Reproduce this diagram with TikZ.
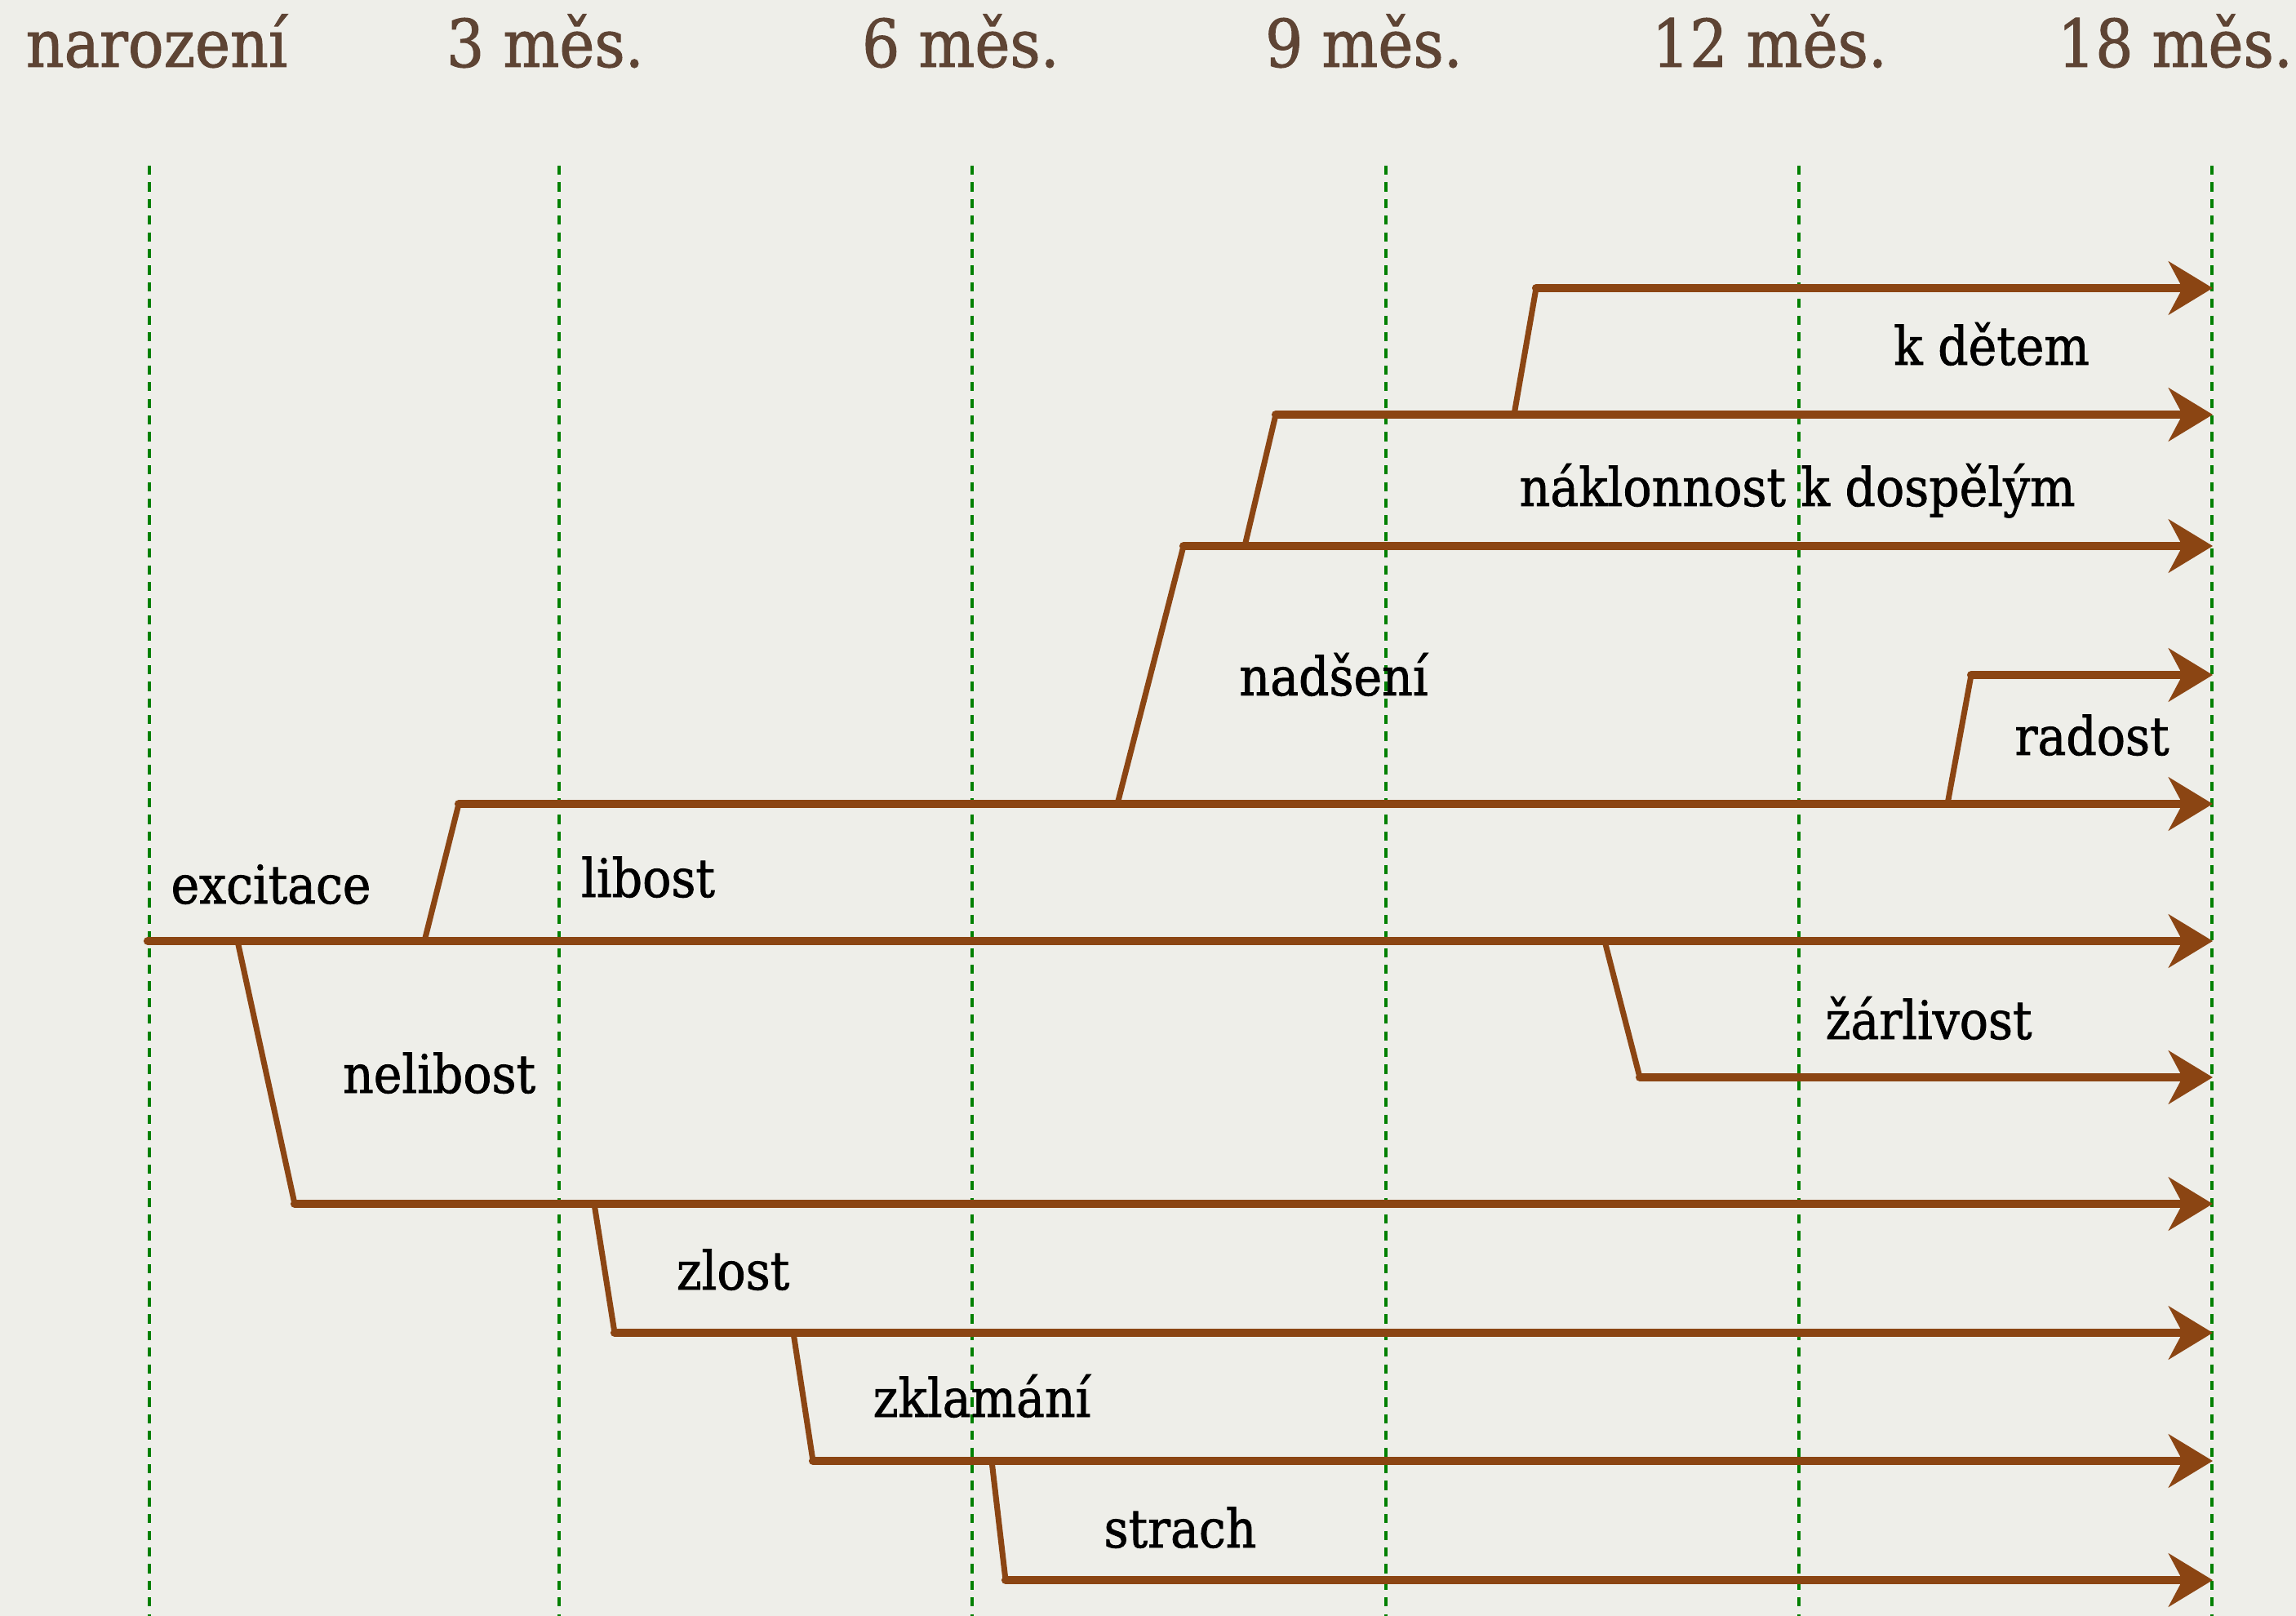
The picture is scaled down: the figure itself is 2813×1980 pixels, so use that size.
\documentclass[tikz,border=0pt]{standalone}
\usepackage{fontspec}
\setmainfont{DejaVu Serif Condensed}
\usetikzlibrary{arrows.meta}
\definecolor{paper}{RGB}{238,238,233}
\definecolor{chalk}{RGB}{139,69,19}
\definecolor{gridgreen}{RGB}{0,128,0}
\definecolor{headbrown}{RGB}{94,68,52}

\begin{document}
\begin{tikzpicture}[x=0.01cm,y=-0.01cm]
	\fill[paper] (0,0) rectangle (2813,1980);
	\useasboundingbox (0,0) rectangle (2813,1980);

	\foreach \x in {183,685,1191,1698,2204,2710}
		\draw[gridgreen,line width=0.9pt,dash pattern=on 3.2pt off 2.6pt] (\x,203) -- (\x,1980);

	\begin{scope}[every node/.style={anchor=base,text=headbrown,font=\fontsize{23}{26}\selectfont\addfontfeatures{FakeBold=1.2}}]
		\node (m0) at (192,82) {narození};
		\node (m3) at (668,82) {3 měs.};
		\node (m6) at (1177,82) {6 měs.};
		\node (m9) at (1671,82) {9 měs.};
		\node (m12) at (2168,82) {12 měs.};
		\node (m18) at (2665,82) {18 měs.};
	\end{scope}

	\begin{scope}[every node/.style={anchor=base,text=black,font=\fontsize{18.5}{22}\selectfont\addfontfeatures{FakeBold=1.2}}]
		\node (excL) at (332,1107) {excitace};
		\node (libL) at (794,1099) {libost};
		\node (nadL) at (1634,852) {nadšení};
		\node (nakL) at (2202,620) {náklonnost k dospělým};
		\node (detL) at (2440,447) {k dětem};
		\node (radL) at (2563,925) {radost};
		\node (nelL) at (538,1339) {nelibost};
		\node (zarL) at (2363,1273) {žárlivost};
		\node (zlL) at (898,1580) {zlost};
		\node (zkL) at (1203,1736) {zklamání};
		\node (strL) at (1446,1896) {strach};
	\end{scope}

	\coordinate (exc0) at (181,1153);
	\coordinate (exc1) at (2711,1153);
	\coordinate (lib0) at (520,1153);
	\coordinate (lib1) at (562,985);
	\coordinate (lib2) at (2711,985);
	\coordinate (nad0) at (1369,985);
	\coordinate (nad1) at (1450,669);
	\coordinate (nad2) at (2711,669);
	\coordinate (nak0) at (1525,669);
	\coordinate (nak1) at (1563,508);
	\coordinate (nak2) at (2711,508);
	\coordinate (det0) at (1855,508);
	\coordinate (det1) at (1882,353);
	\coordinate (det2) at (2711,353);
	\coordinate (rad0) at (2386,985);
	\coordinate (rad1) at (2415,827);
	\coordinate (rad2) at (2711,827);
	\coordinate (nel0) at (291,1153);
	\coordinate (nel1) at (361,1475);
	\coordinate (nel2) at (2711,1475);
	\coordinate (zar0) at (1966,1153);
	\coordinate (zar1) at (2009,1320);
	\coordinate (zar2) at (2711,1320);
	\coordinate (zl0) at (728,1475);
	\coordinate (zl1) at (753,1633);
	\coordinate (zl2) at (2711,1633);
	\coordinate (zk0) at (972,1633);
	\coordinate (zk1) at (996,1790);
	\coordinate (zk2) at (2711,1790);
	\coordinate (str0) at (1215,1790);
	\coordinate (str1) at (1232,1936);
	\coordinate (str2) at (2711,1936);

	\begin{scope}[every edge/.style={draw=chalk,line cap=round}]
		\path [line width=2pt]
			(lib0) edge (lib1)
			(nad0) edge (nad1)
			(nak0) edge (nak1)
			(det0) edge (det1)
			(rad0) edge (rad1)
			(nel0) edge (nel1)
			(zar0) edge (zar1)
			(zl0) edge (zl1)
			(zk0) edge (zk1)
			(str0) edge (str1);
		\path [line width=2.9pt,-{Stealth[length=5.4mm,width=6.5mm,inset=1.7mm]}]
			(exc0) edge (exc1)
			(lib1) edge (lib2)
			(nad1) edge (nad2)
			(nak1) edge (nak2)
			(det1) edge (det2)
			(rad1) edge (rad2)
			(nel1) edge (nel2)
			(zar1) edge (zar2)
			(zl1) edge (zl2)
			(zk1) edge (zk2)
			(str1) edge (str2);
	\end{scope}
\end{tikzpicture}
\end{document}
